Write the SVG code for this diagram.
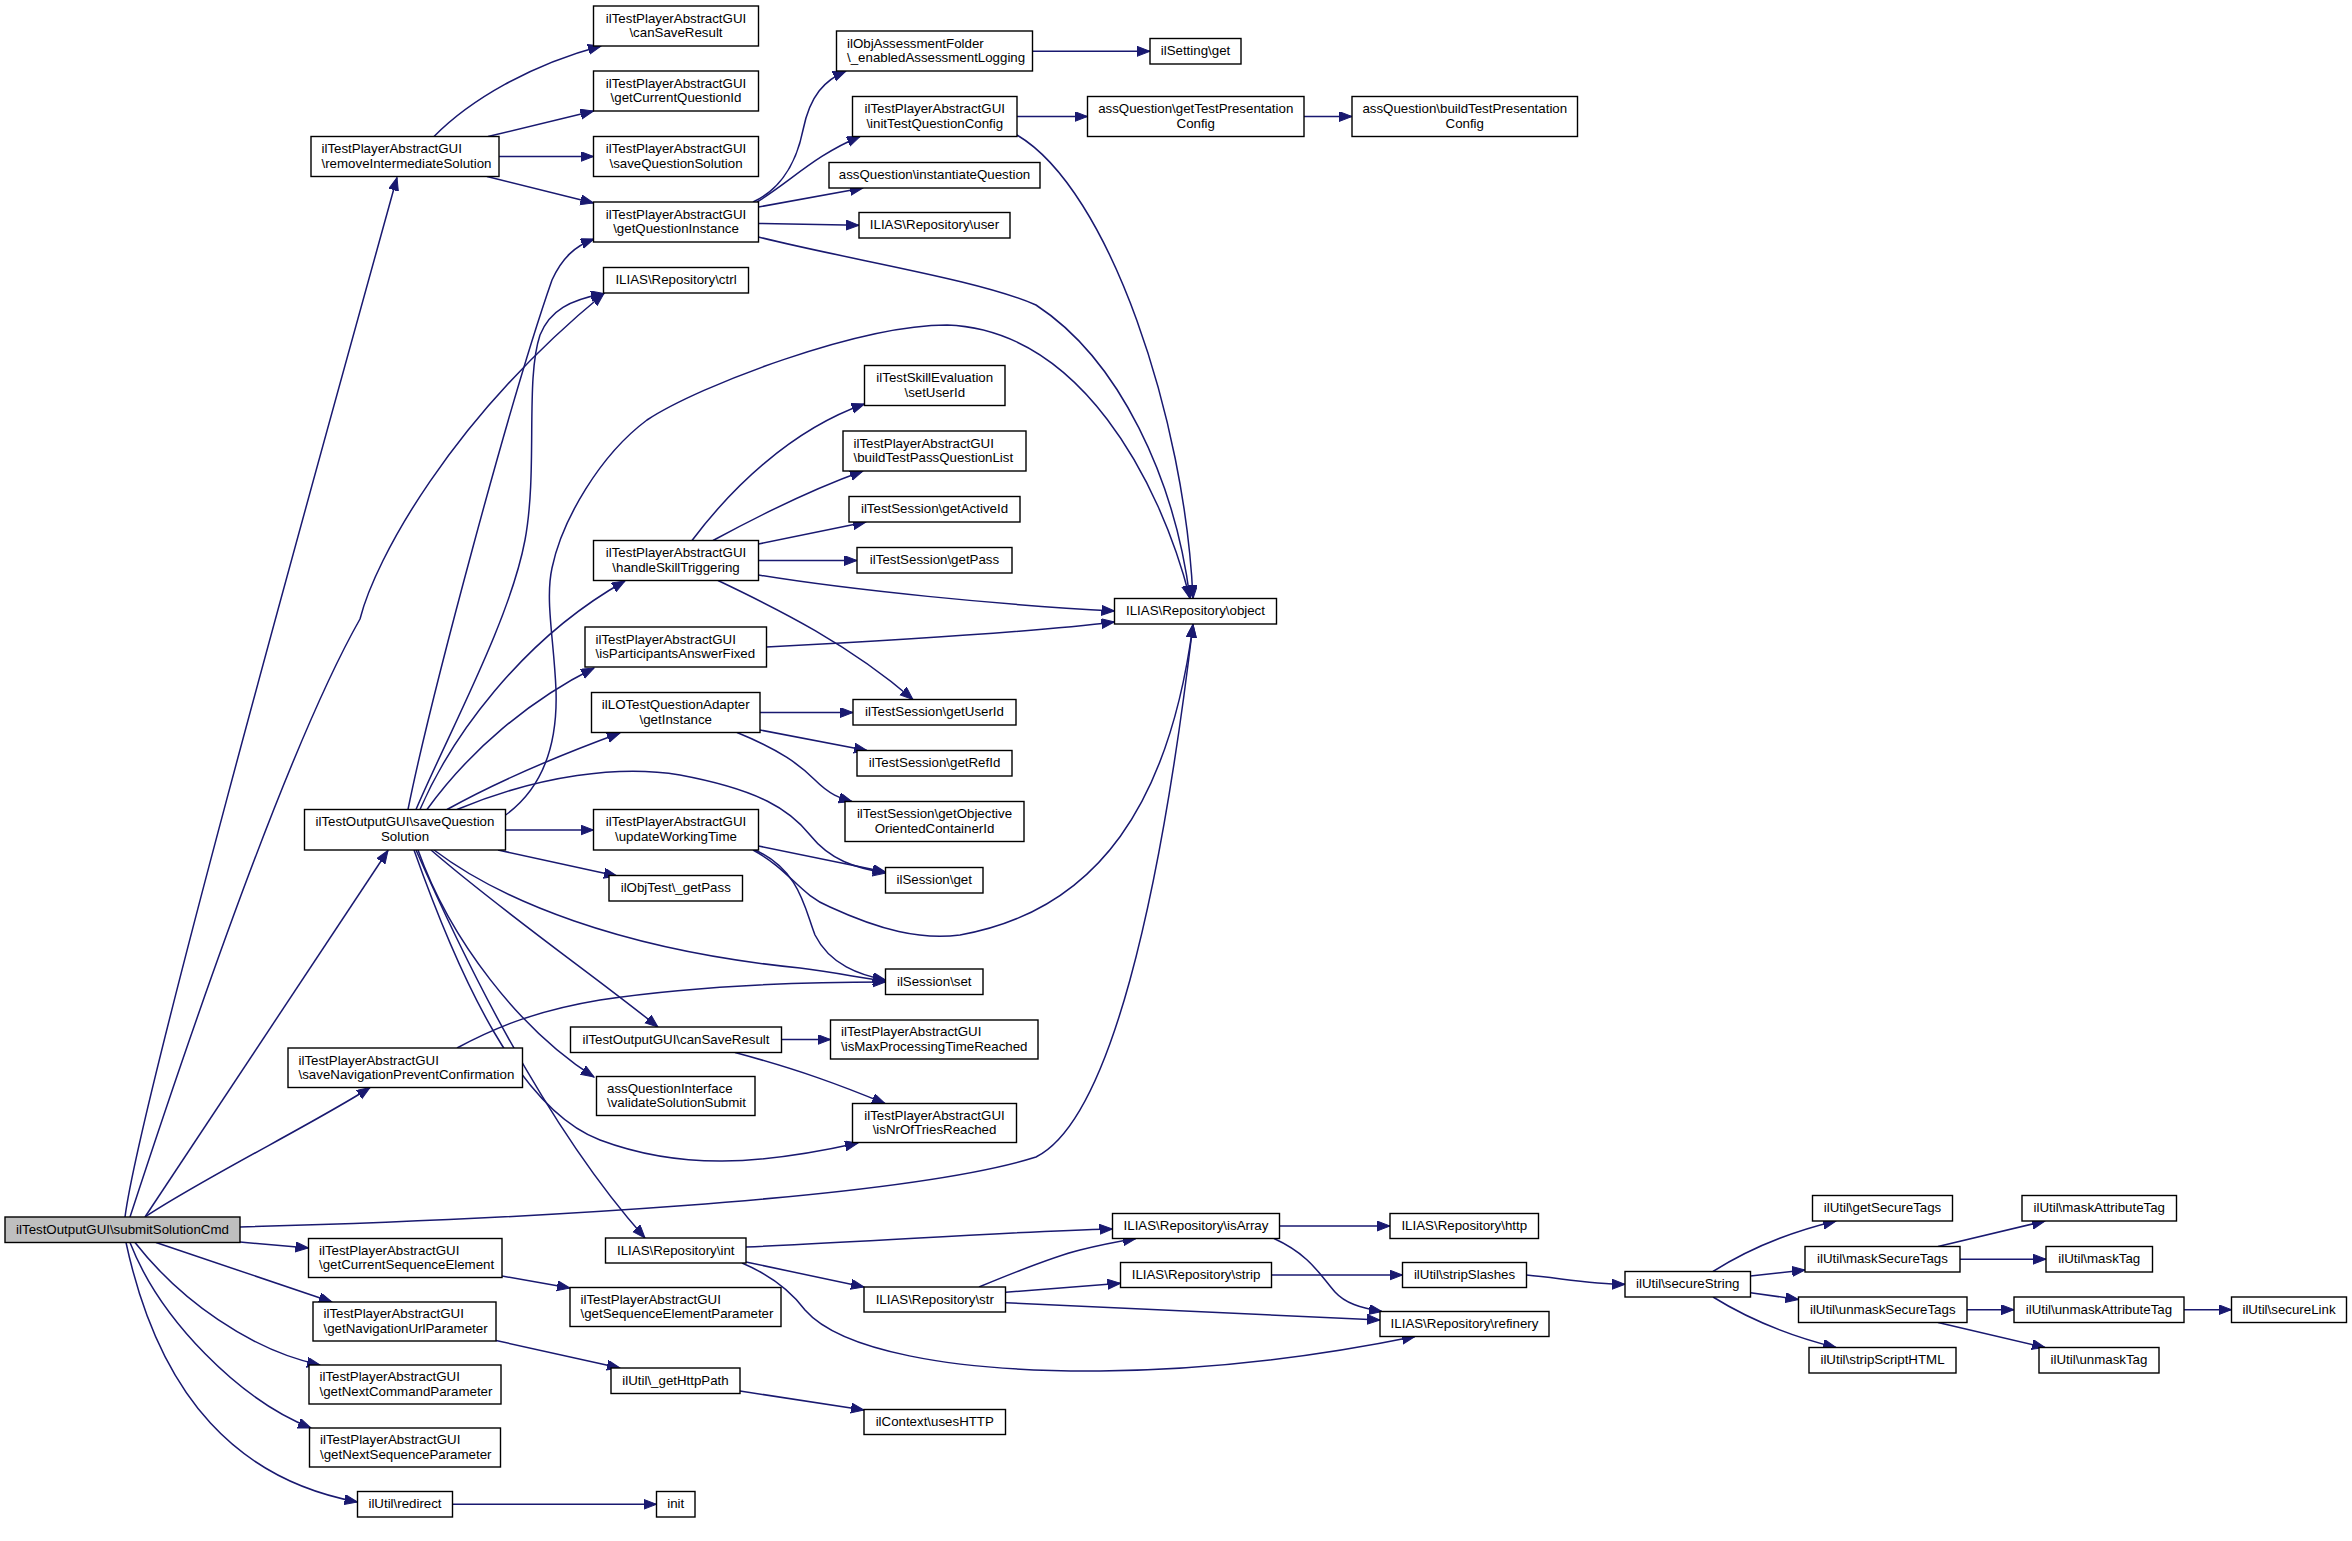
<svg xmlns="http://www.w3.org/2000/svg" width="2352" height="1541" viewBox="0 0 2352 1541">
<style>
.n rect{fill:#fff;stroke:#000;stroke-width:1.4}
.n.root rect{fill:#bfbfbf}
.n text{font-family:"Liberation Sans",Arial,Helvetica,sans-serif;font-size:13.3px;fill:#000}
.n text.c{text-anchor:middle}
.e path{fill:none;stroke:#191970;stroke-width:1.5;marker-end:url(#a)}
</style>
<defs>
<marker id="a" markerUnits="userSpaceOnUse" markerWidth="14" markerHeight="11" refX="13" refY="5" orient="auto"><path d="M0,0 L13,5 L0,10 z" fill="#191970" stroke="#191970" stroke-width="1"/></marker>
</defs>
<rect width="2352" height="1541" fill="#fff"/>
<g id="edges" class="e">
<path d="M125,1217 C140,1100 330,420 397,177.5"/>
<path d="M130,1217 C165,1110 280,760 360,619 C375,560 450,420 604,293.5"/>
<path d="M145,1217 L388,850.5"/>
<path d="M145,1217 C200,1180 320,1120 370,1087.5"/>
<path d="M240,1227 C500,1220 900,1200 1036,1157 C1110,1120 1160,900 1193,624.5"/>
<path d="M240,1242 L308.5,1248"/>
<path d="M156,1242.5 L332,1302"/>
<path d="M135,1242.5 C180,1300 250,1350 320,1365"/>
<path d="M130,1242.5 C160,1320 240,1400 311,1428"/>
<path d="M126,1242.5 C160,1400 240,1480 357.5,1502"/>
<path d="M434,136.5 C470,100 530,65 601,46"/>
<path d="M488,136.5 L593.5,111"/>
<path d="M499,156.5 L593.5,156.5"/>
<path d="M487,176.5 L593.5,203"/>
<path d="M753,202 C775,192 795,170 803,130 C810,95 825,80 846,71"/>
<path d="M757,202 C790,182 815,155 860,136.5"/>
<path d="M758.5,207 L863,188"/>
<path d="M758.5,223.5 L859,225.3"/>
<path d="M758.5,237 C850,260 980,280 1036,305 C1120,360 1175,480 1190,598.5"/>
<path d="M1032.5,51.3 L1150,51.3"/>
<path d="M1017,116.5 L1087.5,116.5"/>
<path d="M1304,116.5 L1352,116.5"/>
<path d="M1017,135 C1110,190 1185,420 1193,598.5"/>
<path d="M408,809.5 C430,700 510,400 552,280 C562,258 575,246 594,239"/>
<path d="M416,809.5 C450,730 510,620 525,540 C538,470 525,380 540,335 C550,310 570,300 604,293.5"/>
<path d="M505.6,815 C540,790 558,750 556,690 C554,640 545,600 552,568 C562,520 600,455 647,420 C700,385 860,325 947,325 C1080,330 1160,480 1190,598.5"/>
<path d="M420,809.5 C450,740 520,640 625,581"/>
<path d="M427,809.5 C470,750 530,700 594,668"/>
<path d="M447,809.5 C500,780 560,755 620,733"/>
<path d="M457,809.5 C540,775 620,765 680,775 C760,790 790,810 810,835 C830,860 855,868 886,873"/>
<path d="M505.6,830 L593.5,830"/>
<path d="M498,850 L617,876"/>
<path d="M434,850 C500,900 620,950 800,968 C840,973 860,978 886,981"/>
<path d="M431,850 C500,910 600,980 658,1027"/>
<path d="M418,850 C450,940 520,1030 594,1077"/>
<path d="M414,850 C460,980 520,1110 600,1140 C680,1170 760,1165 858,1143"/>
<path d="M416,850 C460,950 540,1120 645,1238"/>
<path d="M692,540.5 C730,490 790,430 864.5,404"/>
<path d="M713,540.5 C760,515 810,490 863,471"/>
<path d="M758.5,544 L866,522"/>
<path d="M758.5,560.5 L857,560.5"/>
<path d="M758.5,575 C850,590 1000,605 1114.5,611"/>
<path d="M718,580.5 C780,610 850,645 913,699.5"/>
<path d="M766.5,647 C900,640 1050,630 1114.5,622"/>
<path d="M760,712.5 L853,712.5"/>
<path d="M760,730 L867,750.5"/>
<path d="M737,732.5 C780,750 800,765 815,780 C830,795 840,798 852,801.5"/>
<path d="M758.5,846 L885.5,872"/>
<path d="M753,850 C790,870 800,895 830,907 C880,930 920,940 960,935 C1100,910 1170,800 1193,624.5"/>
<path d="M755,850 C800,870 805,910 815,935 C830,965 860,975 885.5,980"/>
<path d="M781,1039.5 L830.5,1039.5"/>
<path d="M735,1052.5 C800,1070 840,1085 885,1103.5"/>
<path d="M457,1048 C500,1025 540,1010 600,1000 C700,985 800,982 885.5,982"/>
<path d="M502,1276 L570,1288"/>
<path d="M496,1340.5 L620,1368"/>
<path d="M740,1391 L864,1410"/>
<path d="M452.5,1504.3 L656.5,1504.3"/>
<path d="M746,1247 C900,1240 1000,1232 1112.5,1229"/>
<path d="M746,1262 L864,1287"/>
<path d="M742,1263 C770,1275 790,1290 805,1310 C840,1350 950,1372 1100,1371 C1200,1370 1300,1360 1415,1336.5"/>
<path d="M979,1287 C1020,1270 1060,1255 1080,1250 C1100,1245 1115,1242 1136,1238.5"/>
<path d="M1005.5,1292.3 L1120.5,1283.3"/>
<path d="M1005.5,1302.7 L1380,1320"/>
<path d="M1279.5,1226 L1390,1226"/>
<path d="M1274,1238.5 C1310,1255 1320,1275 1335,1292 C1345,1303 1360,1308 1382,1311.5"/>
<path d="M1271.5,1275 L1402.5,1275"/>
<path d="M1526.5,1275 C1560,1278 1590,1284 1625,1284.3"/>
<path d="M1713,1271.5 C1750,1248 1790,1232 1836,1221"/>
<path d="M1750.5,1276 L1805,1270"/>
<path d="M1750.5,1292.7 L1798.5,1299.5"/>
<path d="M1713,1297 C1750,1320 1790,1336 1836,1347.5"/>
<path d="M1938,1246.5 L2045,1221"/>
<path d="M1960,1259.2 L2046,1259.2"/>
<path d="M1967,1309.7 L2014,1309.7"/>
<path d="M1938,1322.5 L2045,1347.5"/>
<path d="M2184,1309.7 L2231.5,1309.7"/>
</g>
<g id="n_submitSolutionCmd" class="n root"><rect x="5" y="1217" width="235" height="25.5"/><text class="c" x="122.5" y="1234">ilTestOutputGUI\submitSolutionCmd</text></g>
<g id="n_removeIntermediateSolution" class="n"><rect x="311" y="136.5" width="188" height="40"/><text x="321.5" y="153">ilTestPlayerAbstractGUI</text><text x="321.5" y="167.5">\removeIntermediateSolution</text></g>
<g id="n_canSaveResult" class="n"><rect x="593.5" y="6" width="165" height="40"/><text class="c" x="676" y="22.5">ilTestPlayerAbstractGUI</text><text class="c" x="676" y="37">\canSaveResult</text></g>
<g id="n_getCurrentQuestionId" class="n"><rect x="593.5" y="71" width="165" height="40"/><text class="c" x="676" y="87.5">ilTestPlayerAbstractGUI</text><text class="c" x="676" y="102">\getCurrentQuestionId</text></g>
<g id="n_saveQuestionSolution" class="n"><rect x="593.5" y="136.5" width="165" height="40"/><text class="c" x="676" y="153">ilTestPlayerAbstractGUI</text><text class="c" x="676" y="167.5">\saveQuestionSolution</text></g>
<g id="n_getQuestionInstance" class="n"><rect x="593.5" y="202" width="165" height="40"/><text class="c" x="676" y="218.5">ilTestPlayerAbstractGUI</text><text class="c" x="676" y="233">\getQuestionInstance</text></g>
<g id="n_ctrl" class="n"><rect x="603.5" y="267.5" width="145" height="25.5"/><text class="c" x="676" y="284.3">ILIAS\Repository\ctrl</text></g>
<g id="n_enabledAssessmentLogging" class="n"><rect x="836.5" y="31" width="196" height="40"/><text x="847" y="47.5">ilObjAssessmentFolder</text><text x="847" y="62">\_enabledAssessmentLogging</text></g>
<g id="n_ilSetting_get" class="n"><rect x="1150" y="38.5" width="91" height="25.5"/><text class="c" x="1195.5" y="55.3">ilSetting\get</text></g>
<g id="n_initTestQuestionConfig" class="n"><rect x="852.5" y="96.5" width="164.5" height="40"/><text class="c" x="934.75" y="113">ilTestPlayerAbstractGUI</text><text class="c" x="934.75" y="127.5">\initTestQuestionConfig</text></g>
<g id="n_getTestPresentationConfig" class="n"><rect x="1087.5" y="96.5" width="216.5" height="40"/><text class="c" x="1195.75" y="113">assQuestion\getTestPresentation</text><text class="c" x="1195.75" y="127.5">Config</text></g>
<g id="n_buildTestPresentationConfig" class="n"><rect x="1352" y="96.5" width="225.5" height="40"/><text class="c" x="1464.75" y="113">assQuestion\buildTestPresentation</text><text class="c" x="1464.75" y="127.5">Config</text></g>
<g id="n_instantiateQuestion" class="n"><rect x="829" y="162.5" width="211" height="25.5"/><text class="c" x="934.5" y="179.3">assQuestion\instantiateQuestion</text></g>
<g id="n_user" class="n"><rect x="859" y="212.5" width="151" height="25.5"/><text class="c" x="934.5" y="229.3">ILIAS\Repository\user</text></g>
<g id="n_setUserId" class="n"><rect x="864.5" y="365.5" width="140.5" height="40"/><text class="c" x="934.75" y="382">ilTestSkillEvaluation</text><text class="c" x="934.75" y="396.5">\setUserId</text></g>
<g id="n_buildTestPassQuestionList" class="n"><rect x="843" y="431" width="183" height="40"/><text x="853.5" y="447.5">ilTestPlayerAbstractGUI</text><text x="853.5" y="462">\buildTestPassQuestionList</text></g>
<g id="n_getActiveId" class="n"><rect x="849" y="496.5" width="171" height="25.5"/><text class="c" x="934.5" y="513.3">ilTestSession\getActiveId</text></g>
<g id="n_session_getPass" class="n"><rect x="857" y="547.5" width="155" height="25.5"/><text class="c" x="934.5" y="564.3">ilTestSession\getPass</text></g>
<g id="n_object" class="n"><rect x="1114.5" y="598.5" width="162" height="25.5"/><text class="c" x="1195.5" y="615.3">ILIAS\Repository\object</text></g>
<g id="n_handleSkillTriggering" class="n"><rect x="593.5" y="540.5" width="165" height="40"/><text class="c" x="676" y="557">ilTestPlayerAbstractGUI</text><text class="c" x="676" y="571.5">\handleSkillTriggering</text></g>
<g id="n_isParticipantsAnswerFixed" class="n"><rect x="585" y="627" width="181.5" height="40"/><text x="595.5" y="643.5">ilTestPlayerAbstractGUI</text><text x="595.5" y="658">\isParticipantsAnswerFixed</text></g>
<g id="n_getInstance" class="n"><rect x="591.5" y="692.5" width="168.5" height="40"/><text class="c" x="675.75" y="709">ilLOTestQuestionAdapter</text><text class="c" x="675.75" y="723.5">\getInstance</text></g>
<g id="n_getUserId" class="n"><rect x="853" y="699.5" width="163" height="25.5"/><text class="c" x="934.5" y="716.3">ilTestSession\getUserId</text></g>
<g id="n_getRefId" class="n"><rect x="857" y="750.5" width="155" height="25.5"/><text class="c" x="934.5" y="767.3">ilTestSession\getRefId</text></g>
<g id="n_getObjectiveOrientedContainerId" class="n"><rect x="845" y="801.5" width="179" height="40"/><text class="c" x="934.5" y="818">ilTestSession\getObjective</text><text class="c" x="934.5" y="832.5">OrientedContainerId</text></g>
<g id="n_session_get" class="n"><rect x="885.5" y="867.5" width="97.5" height="25.5"/><text class="c" x="934.25" y="884.3">ilSession\get</text></g>
<g id="n_session_set" class="n"><rect x="885.5" y="969" width="97.5" height="25.5"/><text class="c" x="934.25" y="985.8">ilSession\set</text></g>
<g id="n_out_saveQuestionSolution" class="n"><rect x="304.5" y="809.5" width="201" height="40.5"/><text class="c" x="405" y="826">ilTestOutputGUI\saveQuestion</text><text class="c" x="405" y="840.5">Solution</text></g>
<g id="n_updateWorkingTime" class="n"><rect x="593.5" y="809.5" width="165" height="40.5"/><text class="c" x="676" y="826">ilTestPlayerAbstractGUI</text><text class="c" x="676" y="840.5">\updateWorkingTime</text></g>
<g id="n_objtest_getPass" class="n"><rect x="609" y="875.5" width="133.5" height="25.5"/><text class="c" x="675.75" y="892.3">ilObjTest\_getPass</text></g>
<g id="n_out_canSaveResult" class="n"><rect x="570.5" y="1027" width="211" height="25.5"/><text class="c" x="676" y="1043.8">ilTestOutputGUI\canSaveResult</text></g>
<g id="n_isMaxProcessingTimeReached" class="n"><rect x="830.5" y="1020" width="207.5" height="39"/><text x="841" y="1036">ilTestPlayerAbstractGUI</text><text x="841" y="1050.5">\isMaxProcessingTimeReached</text></g>
<g id="n_saveNavigationPreventConfirmation" class="n"><rect x="288" y="1048" width="234.5" height="39.5"/><text x="298.5" y="1064.5">ilTestPlayerAbstractGUI</text><text x="298.5" y="1079">\saveNavigationPreventConfirmation</text></g>
<g id="n_validateSolutionSubmit" class="n"><rect x="596.5" y="1076.5" width="158.5" height="39"/><text x="607" y="1092.5">assQuestionInterface</text><text x="607" y="1107">\validateSolutionSubmit</text></g>
<g id="n_isNrOfTriesReached" class="n"><rect x="852.5" y="1103.5" width="164" height="39"/><text class="c" x="934.5" y="1119.5">ilTestPlayerAbstractGUI</text><text class="c" x="934.5" y="1134">\isNrOfTriesReached</text></g>
<g id="n_int" class="n"><rect x="605.5" y="1238" width="140.5" height="25"/><text class="c" x="675.75" y="1254.5">ILIAS\Repository\int</text></g>
<g id="n_getCurrentSequenceElement" class="n"><rect x="308.5" y="1238.5" width="193.5" height="39"/><text x="319" y="1254.5">ilTestPlayerAbstractGUI</text><text x="319" y="1269">\getCurrentSequenceElement</text></g>
<g id="n_getSequenceElementParameter" class="n"><rect x="570" y="1287.5" width="211" height="39"/><text x="580.5" y="1303.5">ilTestPlayerAbstractGUI</text><text x="580.5" y="1318">\getSequenceElementParameter</text></g>
<g id="n_getNavigationUrlParameter" class="n"><rect x="313" y="1302" width="183" height="39"/><text x="323.5" y="1318">ilTestPlayerAbstractGUI</text><text x="323.5" y="1332.5">\getNavigationUrlParameter</text></g>
<g id="n_getHttpPath" class="n"><rect x="611" y="1368" width="129" height="25.5"/><text class="c" x="675.5" y="1384.8">ilUtil\_getHttpPath</text></g>
<g id="n_getNextCommandParameter" class="n"><rect x="309" y="1365" width="192" height="39"/><text x="319.5" y="1381">ilTestPlayerAbstractGUI</text><text x="319.5" y="1395.5">\getNextCommandParameter</text></g>
<g id="n_getNextSequenceParameter" class="n"><rect x="309.5" y="1428" width="191" height="39"/><text x="320" y="1444">ilTestPlayerAbstractGUI</text><text x="320" y="1458.5">\getNextSequenceParameter</text></g>
<g id="n_redirect" class="n"><rect x="357.5" y="1491.5" width="95" height="25.5"/><text class="c" x="405" y="1508.3">ilUtil\redirect</text></g>
<g id="n_init" class="n"><rect x="656.5" y="1491.5" width="38.5" height="25.5"/><text class="c" x="675.75" y="1508.3">init</text></g>
<g id="n_isArray" class="n"><rect x="1112.5" y="1213.5" width="167" height="25"/><text class="c" x="1196" y="1230">ILIAS\Repository\isArray</text></g>
<g id="n_http" class="n"><rect x="1390" y="1213.5" width="148.5" height="25"/><text class="c" x="1464.25" y="1230">ILIAS\Repository\http</text></g>
<g id="n_strip" class="n"><rect x="1120.5" y="1262.5" width="151" height="25"/><text class="c" x="1196" y="1279">ILIAS\Repository\strip</text></g>
<g id="n_stripSlashes" class="n"><rect x="1402.5" y="1262.5" width="124" height="25"/><text class="c" x="1464.5" y="1279">ilUtil\stripSlashes</text></g>
<g id="n_str" class="n"><rect x="864" y="1287" width="141.5" height="25"/><text class="c" x="934.75" y="1303.5">ILIAS\Repository\str</text></g>
<g id="n_refinery" class="n"><rect x="1380" y="1311.5" width="169" height="25"/><text class="c" x="1464.5" y="1328">ILIAS\Repository\refinery</text></g>
<g id="n_usesHTTP" class="n"><rect x="864" y="1409.5" width="141.5" height="25"/><text class="c" x="934.75" y="1426">ilContext\usesHTTP</text></g>
<g id="n_secureString" class="n"><rect x="1625" y="1271.5" width="125.5" height="25.5"/><text class="c" x="1687.75" y="1288.3">ilUtil\secureString</text></g>
<g id="n_getSecureTags" class="n"><rect x="1812.5" y="1195.5" width="140" height="25.5"/><text class="c" x="1882.5" y="1212.3">ilUtil\getSecureTags</text></g>
<g id="n_maskSecureTags" class="n"><rect x="1805" y="1246.5" width="155" height="25.5"/><text class="c" x="1882.5" y="1263.3">ilUtil\maskSecureTags</text></g>
<g id="n_unmaskSecureTags" class="n"><rect x="1798.5" y="1297" width="168.5" height="25.5"/><text class="c" x="1882.75" y="1313.8">ilUtil\unmaskSecureTags</text></g>
<g id="n_stripScriptHTML" class="n"><rect x="1809" y="1347.5" width="147" height="25.5"/><text class="c" x="1882.5" y="1364.3">ilUtil\stripScriptHTML</text></g>
<g id="n_maskAttributeTag" class="n"><rect x="2022" y="1195.5" width="154.5" height="25.5"/><text class="c" x="2099.25" y="1212.3">ilUtil\maskAttributeTag</text></g>
<g id="n_maskTag" class="n"><rect x="2046" y="1246.5" width="106.5" height="25.5"/><text class="c" x="2099.25" y="1263.3">ilUtil\maskTag</text></g>
<g id="n_unmaskAttributeTag" class="n"><rect x="2014" y="1297" width="170" height="25.5"/><text class="c" x="2099" y="1313.8">ilUtil\unmaskAttributeTag</text></g>
<g id="n_secureLink" class="n"><rect x="2231.5" y="1297" width="115" height="25.5"/><text class="c" x="2289" y="1313.8">ilUtil\secureLink</text></g>
<g id="n_unmaskTag" class="n"><rect x="2039" y="1347.5" width="120" height="25.5"/><text class="c" x="2099" y="1364.3">ilUtil\unmaskTag</text></g>
</svg>
